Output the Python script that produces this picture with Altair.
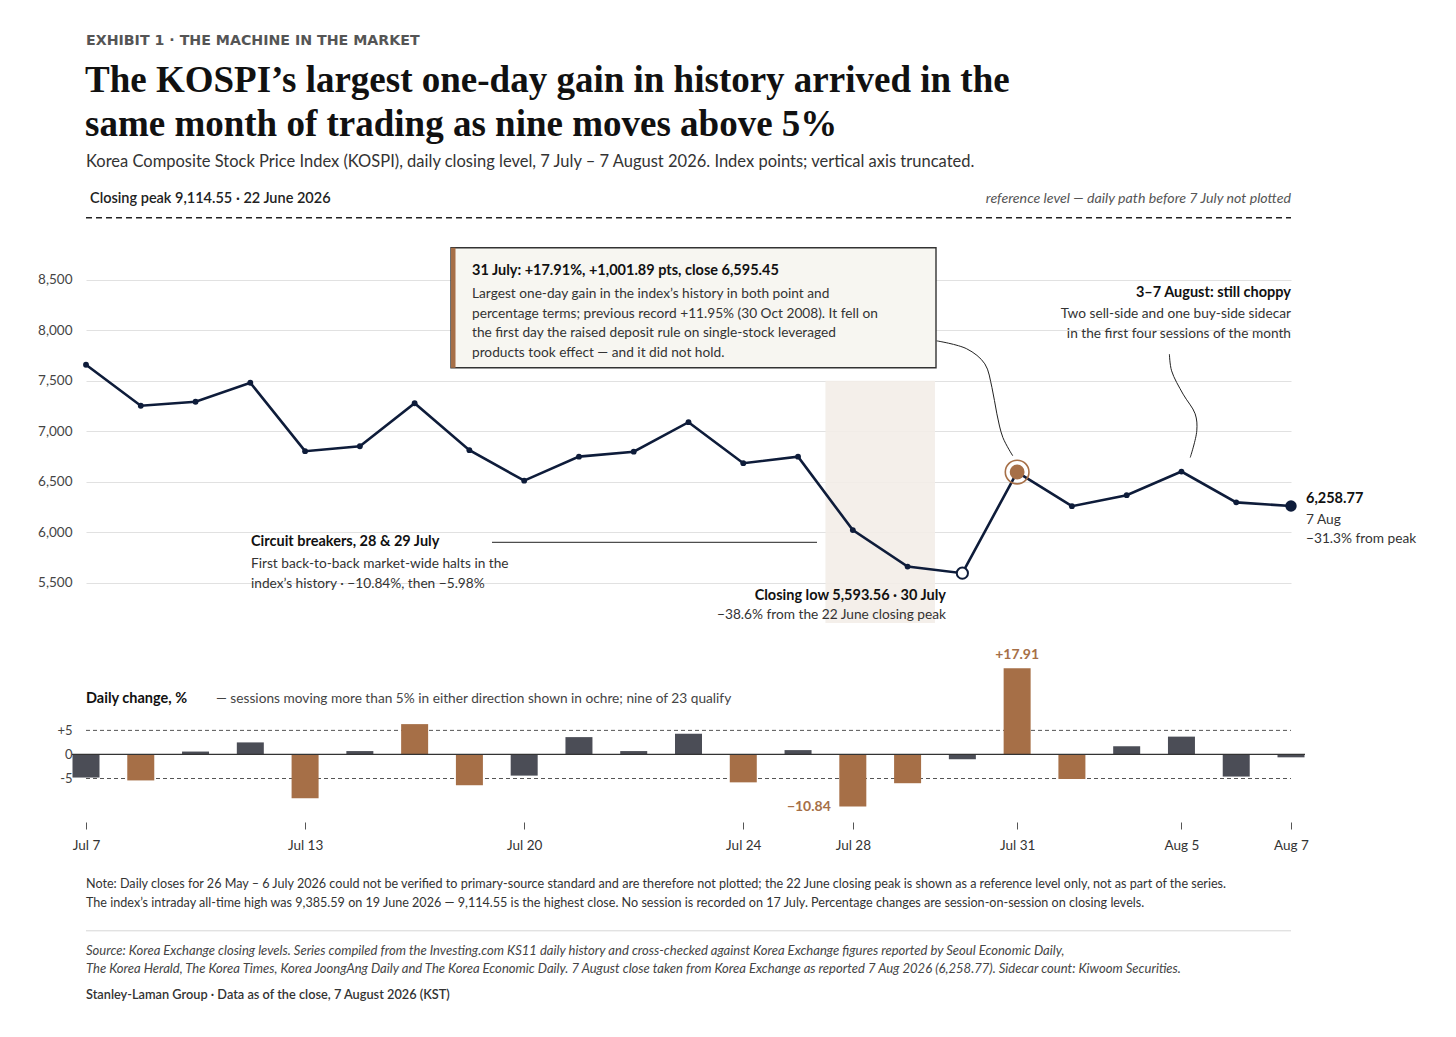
import json
import altair as alt
import pandas as pd

# ---------------- data ----------------
sessions = ["Jul 7", "Jul 8", "Jul 9", "Jul 10", "Jul 13", "Jul 14", "Jul 15", "Jul 16",
            "Jul 20", "Jul 21", "Jul 22", "Jul 23", "Jul 24", "Jul 27", "Jul 28", "Jul 29",
            "Jul 30", "Jul 31", "Aug 3", "Aug 4", "Aug 5", "Aug 6", "Aug 7"]
closes = [7658, 7252, 7292, 7480, 6802, 6851, 7277, 6812, 6510, 6748, 6797, 7089,
          6683, 6748, 6020, 5659, 5593.56, 6595.45, 6257, 6366, 6600, 6295, 6258.77]
changes = [-4.8, -5.4, 0.6, 2.5, -9.1, 0.7, 6.3, -6.4, -4.4, 3.6, 0.7, 4.3,
           -5.8, 0.9, -10.84, -5.98, -1.0, 17.91, -5.1, 1.7, 3.7, -4.6, -0.6]
tick_sessions = ["Jul 7", "Jul 13", "Jul 20", "Jul 24", "Jul 28", "Jul 31", "Aug 5", "Aug 7"]
close_ticks = [5500, 6000, 6500, 7000, 7500, 8000, 8500]
change_ticks = [-5, 0, 5]
change_refs = [5, -5]
peak_close = 9114.55
threshold = 5
band_sessions = ["Jul 28", "Jul 29"]
band_top = 7500
low_session, big_session, last_session = "Jul 30", "Jul 31", "Aug 7"

# leader curves (session position, index level)
leader_box_x = [15.53, 16.08, 16.41, 16.54, 16.63, 16.74, 16.92]
leader_box_y = [7895, 7816, 7667, 7433, 7172, 6937, 6756]
leader_aug_x = [19.78, 19.82, 20.03, 20.25, 20.28, 20.16]
leader_aug_y = [7764, 7598, 7367, 7172, 7004, 6739]

# ---------------- styling ----------------
SANS = "Lato"
SERIF = "Liberation Serif"
NAVY = "#0e1c3a"
OCHRE = "#a66f47"
GRAYBAR = "#4b4d56"
X0 = 86.0          # page x of plot left
TOP1 = 198.2       # page y of top plot
W = 1205
H1 = 424
SPACING = 40
H2 = 154
TOP2 = TOP1 + H1 + SPACING
BODY = 13.7
NOTE = 12.6
NOTE_IT = 13.05

df = pd.DataFrame({"idx": list(range(len(sessions))), "session": sessions,
                   "close": closes, "chg": changes})
df["kind"] = ["big" if abs(c) > threshold else "small" for c in changes]
df["lab"] = [f"{c:+.2f}".replace("-", "\u2212") for c in changes]

xs = alt.Scale(domain=[0, len(sessions) - 1], nice=False, zero=False, padding=0)
ys = alt.Scale(domain=[5100, 9300], nice=False, zero=False, padding=0)
ys2 = alt.Scale(domain=[-13, 19], nice=False, zero=False, padding=0)

tick_idx = [sessions.index(s) for s in tick_sessions]
label_expr = f"{json.dumps(sessions)}[datum.value]"

AX_TOP_Y = alt.Axis(values=close_ticks, labelExpr="format(datum.value, ',')", grid=True,
                    gridColor="#e1e1e1", gridWidth=1, domain=False, ticks=False, labelPadding=14,
                    labelFontSize=13.5, labelColor="#444444", title=None, labelFont=SANS)
AX_BOT_X = alt.Axis(values=tick_idx, labelExpr=label_expr, domain=False, ticks=True,
                    tickSize=7, tickColor="#555555", tickWidth=1, offset=5,
                    labelPadding=9, labelFontSize=13.5, labelColor="#333333",
                    labelFlush=False, labelOverlap=False,
                    grid=False, title=None, labelFont=SANS)
AX_BOT_Y = alt.Axis(values=change_ticks,
                    labelExpr="datum.value > 0 ? '+' + datum.value : '' + datum.value",
                    grid=False, domain=False, ticks=False, labelPadding=14,
                    labelFontSize=13, labelColor="#444444", title=None, labelFont=SANS)

ONE = pd.DataFrame({"k": [0]})


def T(text, px, py, top, size=BODY, weight="normal", color="#333333", align="left",
      style="normal", font=SANS):
    return alt.Chart(ONE).mark_text(
        text=text, align=align, baseline="middle", fontSize=size, fontWeight=weight,
        color=color, fontStyle=style, font=font
    ).encode(x=alt.value(px - X0), y=alt.value(py - top))


def X(field):
    return alt.X(field, type="quantitative", scale=xs, axis=None)


def Y(field):
    return alt.Y(field, type="quantitative", scale=ys, axis=AX_TOP_Y)


def XB(field):
    return alt.X(field, type="quantitative", scale=xs, axis=AX_BOT_X)


def YB(field):
    return alt.Y(field, type="quantitative", scale=ys2, axis=AX_BOT_Y)


# ---------------- top panel ----------------
anchor = alt.Chart(ONE).mark_rule(opacity=0, strokeOpacity=0).encode(
    x=alt.value(8 - X0), y=alt.value(8 - TOP1), y2=alt.value(12 - TOP1))

bi = [sessions.index(s) for s in band_sessions]
band_df = pd.DataFrame({"x0": [min(bi) - 0.5], "x1": [max(bi) + 0.5],
                        "y0": [band_top], "y1": [ys.domain[0]]})
band = alt.Chart(band_df).mark_rect(color="#f3ede8", opacity=0.9).encode(
    x=X("x0"), x2="x1", y=Y("y0"), y2="y1")

peak_rule = alt.Chart(pd.DataFrame({"p": [peak_close]})).mark_rule(
    color="#222222", strokeWidth=1.4, strokeDash=[6, 4]).encode(
    y=Y("p"), x=alt.value(0), x2=alt.value(W))

lead_df = pd.DataFrame({
    "lx": leader_box_x + leader_aug_x,
    "ly": leader_box_y + leader_aug_y,
    "g": ["a"] * len(leader_box_x) + ["b"] * len(leader_aug_x),
    "o": list(range(len(leader_box_x))) + list(range(len(leader_aug_x))),
})
leaders = alt.Chart(lead_df).mark_line(color="#222222", strokeWidth=1,
                                       interpolate="catmull-rom").encode(
    x=X("lx"), y=Y("ly"), detail="g:N", order="o:Q")

line = alt.Chart(df).mark_line(color=NAVY, strokeWidth=2.6).encode(x=X("idx"), y=Y("close"))
dots = alt.Chart(df).mark_circle(size=34, color=NAVY, opacity=1).encode(x=X("idx"), y=Y("close"))

low_pt = alt.Chart(df[df.session == low_session]).mark_point(
    shape="circle", filled=True, fill="white", stroke=NAVY, strokeWidth=2, size=125,
    opacity=1).encode(x=X("idx"), y=Y("close"))
ring = alt.Chart(df[df.session == big_session]).mark_point(
    shape="circle", filled=False, stroke=OCHRE, strokeWidth=1.6, size=560,
    opacity=1).encode(x=X("idx"), y=Y("close"))
big_dot = alt.Chart(df[df.session == big_session]).mark_circle(
    size=220, color=OCHRE, opacity=1).encode(x=X("idx"), y=Y("close"))
end_pt = alt.Chart(df[df.session == last_session]).mark_circle(
    size=130, color=NAVY, opacity=1).encode(x=X("idx"), y=Y("close"))

box = alt.Chart(ONE).mark_rect(fill="#f7f6f1", stroke="#333333", strokeWidth=1.4).encode(
    x=alt.value(451 - X0), x2=alt.value(936 - X0), y=alt.value(247 - TOP1), y2=alt.value(367 - TOP1))
box_bar = alt.Chart(ONE).mark_rect(fill=OCHRE).encode(
    x=alt.value(451 - X0), x2=alt.value(455.5 - X0), y=alt.value(247 - TOP1), y2=alt.value(367 - TOP1))

cb_rule = alt.Chart(ONE).mark_rule(color="#222222", strokeWidth=1).encode(
    x=alt.value(492 - X0), x2=alt.value(817 - X0), y=alt.value(541.5 - TOP1))

top_texts = [
    T("EXHIBIT 1 \u00b7 THE MACHINE IN THE MARKET", 86, 40, TOP1, size=14.2, weight="bold",
      color="#555555", font="DejaVu Sans"),
    T("The KOSPI\u2019s largest one-day gain in history arrived in the", 85, 80, TOP1, size=37,
      weight="bold", color="#111111", font=SERIF),
    T("same month of trading as nine moves above 5%", 85, 124, TOP1, size=37,
      weight="bold", color="#111111", font=SERIF),
    T("Korea Composite Stock Price Index (KOSPI), daily closing level, 7 July \u2013 7 August 2026. "
      "Index points; vertical axis truncated.", 86, 161, TOP1, size=16.5, color="#333333"),
    T("Closing peak 9,114.55 \u00b7 22 June 2026", 90, 198, TOP1, size=14.5, weight=600, color="#222222"),
    T("reference level \u2014 daily path before 7 July not plotted", 1291, 198, TOP1, size=14.2,
      color="#555555", align="right", style="italic"),
    T("31 July: +17.91%, +1,001.89 pts, close 6,595.45", 472, 270, TOP1, size=14.5, weight="bold", color="#111111"),
    T("Largest one-day gain in the index\u2019s history in both point and", 472, 293, TOP1),
    T("percentage terms; previous record +11.95% (30 Oct 2008). It fell on", 472, 313, TOP1),
    T("the first day the raised deposit rule on single-stock leveraged", 472, 332, TOP1),
    T("products took effect \u2014 and it did not hold.", 472, 352, TOP1),
    T("3\u20137 August: still choppy", 1291, 292, TOP1, size=14.5, weight="bold", color="#111111", align="right"),
    T("Two sell-side and one buy-side sidecar", 1291, 313, TOP1, align="right"),
    T("in the first four sessions of the month", 1291, 333, TOP1, align="right"),
    T("Circuit breakers, 28 & 29 July", 251, 541, TOP1, size=14.5, weight="bold", color="#111111"),
    T("First back-to-back market-wide halts in the", 251, 563, TOP1),
    T("index\u2019s history \u00b7 \u221210.84%, then \u22125.98%", 251, 583, TOP1),
    T("Closing low 5,593.56 \u00b7 30 July", 946, 595, TOP1, size=14.5, weight="bold", color="#111111", align="right"),
    T("\u221238.6% from the 22 June closing peak", 946, 614, TOP1, align="right"),
    T("6,258.77", 1306, 498, TOP1, size=14.5, weight="bold", color="#111111"),
    T("7 Aug", 1306, 519, TOP1),
    T("\u221231.3% from peak", 1306, 538, TOP1),
]

top = alt.layer(anchor, band, peak_rule, line, leaders, dots, low_pt, ring, big_dot, end_pt,
                box, box_bar, cb_rule, *top_texts).properties(width=W, height=H1)

# ---------------- bottom panel ----------------
bars = alt.Chart(df).mark_bar(size=27).encode(
    x=XB("idx"), y=YB("chg"),
    color=alt.Color("kind:N", scale=alt.Scale(domain=["big", "small"], range=[OCHRE, GRAYBAR]),
                    legend=None),
)

ref_rules = alt.Chart(pd.DataFrame({"lvl": change_refs})).mark_rule(
    color="#555555", strokeWidth=1, strokeDash=[4, 3]).encode(
    y=YB("lvl"), x=alt.value(0), x2=alt.value(W))
zero_rule = alt.Chart(pd.DataFrame({"z": [0]})).mark_rule(color="#333333", strokeWidth=1.3).encode(
    y=YB("z"), x=alt.value(-14), x2=alt.value(W + 14))

imax = int(df.chg.idxmax())
imin = int(df.chg.idxmin())
max_lab = alt.Chart(df.iloc[[imax]]).mark_text(
    font=SANS, fontSize=14, fontWeight="bold", color=OCHRE, baseline="bottom", dy=-6).encode(
    x=XB("idx"), y=YB("chg"), text="lab:N")
min_lab = alt.Chart(df.iloc[[imin]]).mark_text(
    font=SANS, fontSize=14, fontWeight="bold", color=OCHRE, baseline="middle", align="right",
    dx=-22).encode(
    x=XB("idx"), y=YB("chg"), text="lab:N")

sep = alt.Chart(ONE).mark_rule(color="#d6d6d6", strokeWidth=1).encode(
    x=alt.value(0), x2=alt.value(W), y=alt.value(930 - TOP2))

bottom_texts = [
    T("Daily change, %", 86, 698, TOP2, size=14.5, weight="bold", color="#111111"),
    T("\u2014 sessions moving more than 5% in either direction shown in ochre; nine of 23 qualify",
      216, 698, TOP2, color="#444444"),
    T("Note: Daily closes for 26 May \u2013 6 July 2026 could not be verified to primary-source standard "
      "and are therefore not plotted; the 22 June closing peak is shown as a reference level only, "
      "not as part of the series.", 86, 883, TOP2, size=NOTE, color="#333333"),
    T("The index\u2019s intraday all-time high was 9,385.59 on 19 June 2026 \u2014 9,114.55 is the highest "
      "close. No session is recorded on 17 July. Percentage changes are session-on-session on closing levels.",
      86, 902, TOP2, size=NOTE, color="#333333"),
    T("Source: Korea Exchange closing levels. Series compiled from the Investing.com KS11 daily history "
      "and cross-checked against Korea Exchange figures reported by Seoul Economic Daily,",
      86, 950, TOP2, size=NOTE_IT, color="#444444", style="italic"),
    T("The Korea Herald, The Korea Times, Korea JoongAng Daily and The Korea Economic Daily. 7 August "
      "close taken from Korea Exchange as reported 7 Aug 2026 (6,258.77). Sidecar count: Kiwoom Securities.",
      86, 968, TOP2, size=NOTE_IT, color="#444444", style="italic"),
    T("Stanley-Laman Group \u00b7 Data as of the close, 7 August 2026 (KST)", 86, 994, TOP2,
      size=12.75, weight=600, color="#333333"),
]

bottom = alt.layer(ref_rules, bars, zero_rule, max_lab, min_lab, sep, *bottom_texts).properties(
    width=W, height=H2)

chart = alt.vconcat(top, bottom, spacing=SPACING, bounds="flush", padding=0,
                    background="white").configure_view(stroke=None).configure_axis(
    labelFont=SANS).configure_text(font=SANS)

chart.save("out.html", embed_options={"renderer": "svg", "actions": False})
